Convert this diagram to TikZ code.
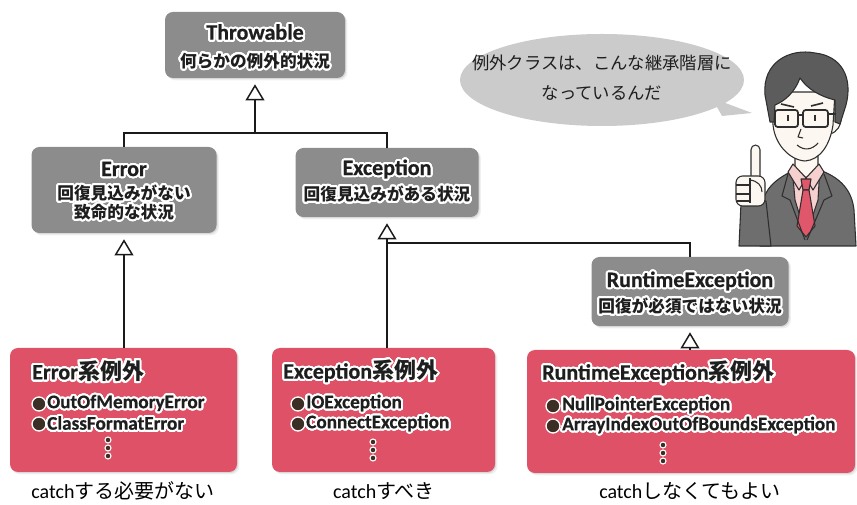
\documentclass[tikz,border=0pt]{standalone}
\usepackage{fontspec}
\setmainfont{Noto Sans CJK JP}
\newfontfamily\latinfont[BoldFeatures={FakeBold=0.6}]{Carlito}
\usepackage{contour}
\contourlength{1.5pt}
\contournumber{32}
\usetikzlibrary{arrows.meta}

\definecolor{boxgray}{HTML}{8C8C8C}
\definecolor{boxred}{HTML}{DF5166}
\definecolor{bubble}{HTML}{CBCBCB}
\definecolor{ink}{HTML}{1E1E1E}
\definecolor{linek}{HTML}{1A1A1A}
\definecolor{dotbrown}{HTML}{3B2E25}
\definecolor{skin}{HTML}{FCF7F0}
\definecolor{hair}{HTML}{5C5C5C}
\definecolor{suit}{HTML}{6E6E6E}
\definecolor{shirt}{HTML}{F6CFCF}
\definecolor{tie}{HTML}{E0566A}
\definecolor{outl}{HTML}{2E2E2E}

\newcommand{\halo}[1]{\contour{white}{#1}}
\newcommand{\lt}[1]{{\latinfont #1}}

\tikzset{
  softshadow/.style={
    preaction={fill=black, opacity=0.06, transform canvas={shift={(1.8pt,-1.8pt)}}},
    preaction={fill=black, opacity=0.10, transform canvas={shift={(0.8pt,-0.8pt)}}}},
  graybox/.style={softshadow, fill=boxgray, rounded corners=6pt, inner sep=0pt},
  redbox/.style={softshadow, fill=boxred, rounded corners=6pt, inner sep=0pt},
  link/.style={draw=linek, line width=1.1pt},
  inh/.style={link, -{Triangle[open, length=12pt, width=14pt]}, shorten >=4.5pt},
  ttl/.style={font=\fontsize{16.5}{18}\selectfont\bfseries, text=ink, inner sep=0pt},
  subt/.style={font=\fontsize{12.5}{14}\selectfont\bfseries, text=ink, inner sep=0pt},
  itemtxt/.style={font=\fontsize{14.4}{16}\selectfont\bfseries, text=ink, inner sep=0pt, anchor=west},
  caption/.style={font=\fontsize{15}{17}\selectfont, text=black, inner sep=0pt},
  saytext/.style={font=\fontsize{13}{15}\selectfont, text=ink, inner sep=0pt},
  bullet/.style={fill=dotbrown, draw=white, line width=1pt},
  fig/.style={draw=outl, line width=0.8pt, line join=round},
}

\begin{document}
\begin{tikzpicture}[x=0.75pt, y=-0.75pt]
\useasboundingbox (0,0) rectangle (857,505);

% ---------- class boxes ----------
\node[graybox, minimum width=135pt, minimum height=49.5pt] (throwable) at (255,45) {};
\node[graybox, minimum width=138.75pt, minimum height=64.5pt] (error) at (124,190) {};
\node[graybox, minimum width=137.25pt, minimum height=51.75pt] (exception) at (387,182.5) {};
\node[graybox, minimum width=147.75pt, minimum height=51.75pt] (runtime) at (690,291.5) {};

\node[redbox, minimum width=170.25pt, minimum height=93pt] (errx) at (123.5,410) {};
\node[redbox, minimum width=167.25pt, minimum height=93pt] (excx) at (383.5,410) {};
\node[redbox, minimum width=246pt, minimum height=92.25pt] (rtx) at (691,411.5) {};

% ---------- class box labels ----------
\node[ttl]  (throwableT) at (255,33) {\halo{\lt{Throwable}}};
\node[subt] (throwableS) at (255,62) {\halo{何らかの例外的状況}};

\node[ttl]  (errorT)  at (124,170) {\halo{\lt{Error}}};
\node[subt] (errorS1) at (124,194) {\halo{回復見込みがない}};
\node[subt] (errorS2) at (124,213) {\halo{致命的な状況}};

\node[ttl]  (exceptionT) at (387,170) {\halo{\lt{Exception}}};
\node[subt] (exceptionS) at (387,195) {\halo{回復見込みがある状況}};

\node[ttl]  (runtimeT) at (690,282) {\halo{\lt{RuntimeException}}};
\node[subt] (runtimeS) at (690,307) {\halo{回復が必須ではない状況}};

% ---------- inheritance connectors ----------
\coordinate (top) at (255,133);
\coordinate (split) at (387,243);
\draw[link] (error.north) |- (exception.north |- top) -- (exception.north);
\draw[inh] (top) -- (throwable.south);
\draw[inh] (error.south |- errx.north) -- (error.south);
\draw[inh] (exception.south |- excx.north) -- (exception.south);
\draw[link] (split) -| (runtime.north);
\draw[inh] (runtime.south |- rtx.north) -- (runtime.south);

% ---------- exception groups ----------
\node[ttl, anchor=west] (errxT) at (32,372) {\halo{\lt{Error}系例外}};
\filldraw[bullet] (39,404) circle (7);
\node[itemtxt] (errx1) at (47,404) {\halo{\lt{OutOfMemoryError}}};
\filldraw[bullet] (39,424) circle (7);
\node[itemtxt] (errx2) at (47,424) {\halo{\lt{ClassFormatError}}};
\foreach \yy in {440,448,456} \filldraw[bullet, line width=0.8pt] (108,\yy) circle (3);

\node[ttl, anchor=west] (excxT) at (283,372) {\halo{\lt{Exception}系例外}};
\filldraw[bullet] (298,404) circle (7);
\node[itemtxt] (excx1) at (306,404) {\halo{\lt{IOException}}};
\filldraw[bullet] (298,424) circle (7);
\node[itemtxt] (excx2) at (306,424) {\halo{\lt{ConnectException}}};
\foreach \yy in {442,450,458} \filldraw[bullet, line width=0.8pt] (373,\yy) circle (3);

\node[ttl, anchor=west] (rtxT) at (542,373) {\halo{\lt{RuntimeException}系例外}};
\filldraw[bullet] (553,406) circle (7);
\node[itemtxt] (rtx1) at (562,406) {\halo{\lt{NullPointerException}}};
\filldraw[bullet] (553,426) circle (7);
\node[itemtxt] (rtx2) at (562,426) {\halo{\lt{ArrayIndexOutOfBoundsException}}};
\foreach \yy in {445,453,461} \filldraw[bullet, line width=0.8pt] (663,\yy) circle (3);

% ---------- captions ----------
\node[caption] (capErr) at (123,491) {\lt{catch}する必要がない};
\node[caption] (capExc) at (384,491) {\lt{catch}すべき};
\node[caption] (capRt)  at (690,491) {\lt{catch}しなくてもよい};

% ---------- speech bubble ----------
\fill[bubble] (602,80) ellipse [x radius=142, y radius=46];
\fill[bubble] (712,98) -- (752,113) -- (722,116) -- cycle;
\node[saytext] (say1) at (602,63) {例外クラスは、こんな継承階層に};
\node[saytext] (say2) at (602,93) {なっているんだ};

% ---------- presenter figure ----------
% torso
\filldraw[fig, fill=suit] (760,246) -- (762,205) .. controls (765,188) and (775,180) .. (792,171)
  -- (822,171) .. controls (840,178) and (852,190) .. (854,210) -- (856,246) -- cycle;
% neck
\filldraw[fig, fill=skin] (795,146) -- (795,168) -- (806,178) -- (818,168) -- (818,146) -- cycle;
% shirt
\filldraw[fig, fill=shirt] (792,166) -- (806,178) -- (820,166) -- (818,200) -- (806,236) -- (795,200) -- cycle;
% collar
\filldraw[fig, fill=shirt] (793,164) -- (806,178) -- (799,190) -- (788,172) -- cycle;
\filldraw[fig, fill=shirt] (819,164) -- (806,178) -- (813,190) -- (824,172) -- cycle;
% tie
\filldraw[fig, fill=tie] (801,179) -- (811,179) -- (809,190) -- (803,190) -- cycle;
\filldraw[fig, fill=tie] (803,190) -- (809,190) -- (815,226) -- (806,237) -- (797,226) -- cycle;
% lapels
\draw[fig] (788,174) -- (782,196) -- (790,200) -- (805,240);
\draw[fig] (824,174) -- (832,196) -- (824,200) -- (807,240);
% face and ear
\filldraw[fig, fill=skin] (832,110) .. controls (844,106) and (845,130) .. (830,134) -- cycle;
\filldraw[fig, fill=skin] (772,92) -- (773,125) .. controls (775,145) and (790,160) .. (805,161)
  .. controls (820,160) and (830,145) .. (833,125) -- (835,92) -- cycle;
% hair
\filldraw[fig, fill=hair] (770,122) -- (765,95) .. controls (762,62) and (790,48) .. (815,53)
  .. controls (842,56) and (853,78) .. (846,105) -- (840,124) -- (835,122) -- (835,100)
  .. controls (822,97) and (808,90) .. (800,78) .. controls (795,92) and (785,101) .. (775,105)
  -- (774,122) -- cycle;
% eyebrows
\draw[fig, line width=1.2pt] (781,104) -- (794,107);
\draw[fig, line width=1.2pt] (811,106) -- (823,103);
% glasses
\draw[fig, line width=1.3pt, rounded corners=2pt] (775,110) rectangle (798,127);
\draw[fig, line width=1.3pt, rounded corners=2pt] (803,110) rectangle (828,127);
\draw[fig, line width=1.3pt] (798,115) -- (803,115) (828,114) -- (836,114);
% eyes
\draw[fig, line width=1.6pt] (788,115) -- (788,121);
\draw[fig, line width=1.6pt] (815,115) -- (815,121);
% nose and mouth
\draw[fig] (801,129) -- (798,137) -- (803,138);
\draw[fig] (797,145) .. controls (804,151) and (812,150) .. (818,143);
% raised arm
\filldraw[fig, fill=suit] (739,246) -- (741,203) -- (766,201) -- (771,246) -- cycle;
\filldraw[fig, fill=skin, rounded corners=3.5pt] (751,145) rectangle (760,184);
\filldraw[fig, fill=skin, rounded corners=5pt] (736,176) rectangle (765,206);
\draw[fig] (736,185) -- (750,185) (736,194) -- (750,194) (737,201) -- (750,201);
\draw[fig] (750,178) -- (750,203);
\draw[fig] (750,180) .. controls (758,181) and (762,186) .. (762,192);
\end{tikzpicture}
\end{document}
